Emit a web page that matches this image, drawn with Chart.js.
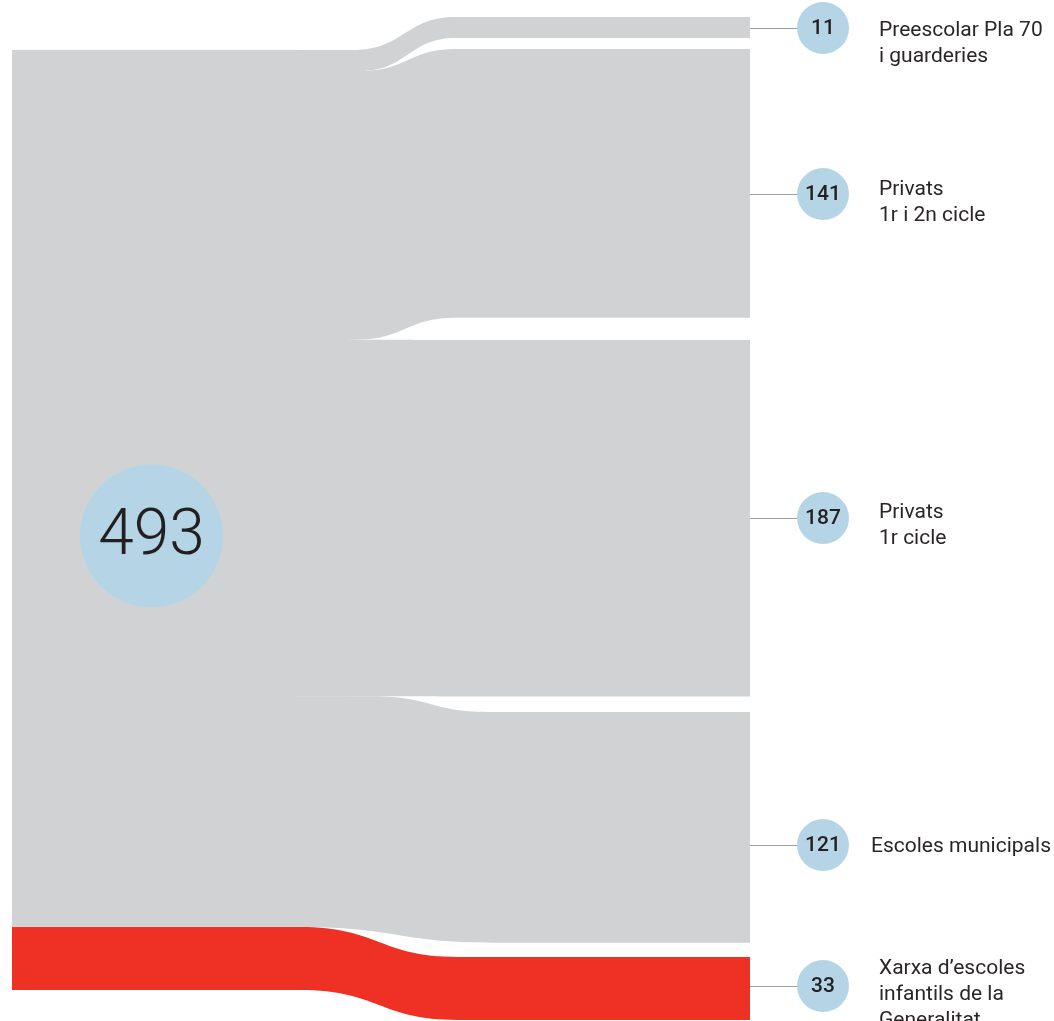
<!DOCTYPE html>
<html>
<head>
<meta charset="utf-8">
<script src="https://cdn.jsdelivr.net/npm/chart.js@4.4.1/dist/chart.umd.min.js"></script>
<style>
  html, body { margin: 0; padding: 0; background: #ffffff; }
  #wrap { width: 1054px; height: 1021px; position: relative; }
</style>
</head>
<body>
<div id="wrap"><canvas id="sankey"></canvas></div>
<script>
// Données
const total = 493;
const values = [11, 141, 187, 121, 33];
const labels = [
    ["Preescolar Pla 70", "i guarderies"],
    ["Privats", "1r i 2n cicle"],
    ["Privats", "1r cicle"],
    ["Escoles municipals"],
    ["Xarxa d\u2019escoles", "infantils de la", "Generalitat"]
];

// Mise en page (unités de l'axe y = unités de valeur)
const PX_PER_UNIT = 940 / 493;
const LEFT_START = 26.2;
const RIGHT_START = 8.9;
const RIGHT_GAPS = [5.8, 11.6, 8.1, 7.5];
const NODE_X = [12, 750];
const CURVE_TOP = [[353, 456], [360, 456], [355, 456], [373, 488], [300, 458]];
const CURVE_BOTTOM = [[360, 456], [355, 456], [373, 488], [300, 493], [300, 458]];
const CIRCLE_X = 823;
const CIRCLE_OFFSET_PX = [0.5, 10.6, -0.2, 17.7, -2.4];
const BIG_CIRCLE = { x: 151.5, offsetPx: 16 };
const LABEL_X = [879, 879, 879, 871, 879];
const LABEL_OFFSET_PX = [8, 1, 0, 7, -12];
const LINE_HEIGHT = 26;

const GRAY = "#d1d2d4";
const RED = "#ee3124";
const BLUE = "#b5d5e6";
const INK = "#231f20";
const bandColors = [GRAY, GRAY, GRAY, GRAY, RED];

// Positions des bandes à gauche et à droite
const bands = [];
let leftY = LEFT_START;
let rightY = RIGHT_START;
values.forEach((v, i) => {
    bands.push({ l0: leftY, l1: leftY + v, r0: rightY, r1: rightY + v });
    leftY += v;
    rightY += v + (RIGHT_GAPS[i] || 0);
});

const bubbles = bands.map((b, i) => ({
    x: CIRCLE_X,
    y: (b.r0 + b.r1) / 2 + CIRCLE_OFFSET_PX[i] / PX_PER_UNIT,
    r: 26
}));
const bigBubble = [{
    x: BIG_CIRCLE.x,
    y: LEFT_START + total / 2 + BIG_CIRCLE.offsetPx / PX_PER_UNIT,
    r: 71.5
}];

// Dessine les flux
const flowPlugin = {
    id: "flows",
    beforeDatasetsDraw(chart) {
        const ctx = chart.ctx;
        const xs = chart.scales.x;
        const ys = chart.scales.y;
        const X = v => xs.getPixelForValue(v);
        const Y = v => ys.getPixelForValue(v);
        const xl = X(NODE_X[0]), xr = X(NODE_X[1]);
        ctx.save();

        bands.forEach((b, i) => {
            const [t0, t1] = CURVE_TOP[i].map(X);
            const [u0, u1] = CURVE_BOTTOM[i].map(X);
            const tm = (t0 + t1) / 2, um = (u0 + u1) / 2;
            ctx.beginPath();
            ctx.moveTo(xl, Y(b.l0));
            ctx.lineTo(t0, Y(b.l0));
            ctx.bezierCurveTo(tm, Y(b.l0), tm, Y(b.r0), t1, Y(b.r0));
            ctx.lineTo(xr, Y(b.r0));
            ctx.lineTo(xr, Y(b.r1));
            ctx.lineTo(u1, Y(b.r1));
            ctx.bezierCurveTo(um, Y(b.r1), um, Y(b.l1), u0, Y(b.l1));
            ctx.lineTo(xl, Y(b.l1));
            ctx.closePath();
            ctx.fillStyle = bandColors[i];
            ctx.fill();
        });

        // bloc de gauche pour masquer les coutures
        ctx.fillStyle = GRAY;
        ctx.fillRect(xl, Y(bands[0].l0), X(350) - xl, Y(bands[2].l1) - Y(bands[0].l0));
        ctx.fillRect(xl, Y(bands[0].l0), X(298) - xl, Y(bands[3].l1) - Y(bands[0].l0));

        // traits de liaison
        const meta = chart.getDatasetMeta(0);
        ctx.strokeStyle = "#9d9fa2";
        ctx.lineWidth = 1;
        meta.data.forEach(pt => {
            const y = Math.round(pt.y) + 0.5;
            ctx.beginPath();
            ctx.moveTo(xr, y);
            ctx.lineTo(pt.x - 26, y);
            ctx.stroke();
        });
        ctx.restore();
    },
    afterDatasetsDraw(chart) {
        const ctx = chart.ctx;
        ctx.save();
        ctx.fillStyle = INK;
        ctx.textBaseline = "middle";
        ctx.textAlign = "center";

        const meta = chart.getDatasetMeta(0);
        meta.data.forEach((pt, i) => {
            ctx.font = "500 21px Roboto";
            ctx.fillText(String(values[i]), pt.x, pt.y + 1);
        });

        const big = chart.getDatasetMeta(1).data[0];
        ctx.font = "300 64px Roboto";
        ctx.fillText(String(total), big.x, big.y + 2);

        ctx.textAlign = "left";
        ctx.textBaseline = "alphabetic";
        ctx.font = "400 21px Roboto";
        ctx.fillStyle = "#2a2627";
        meta.data.forEach((pt, i) => {
            labels[i].forEach((line, j) => {
                ctx.fillText(line, LABEL_X[i], pt.y + LABEL_OFFSET_PX[i] + j * LINE_HEIGHT);
            });
        });
        ctx.restore();
    }
};

new Chart(document.getElementById("sankey"), {
    type: "bubble",
    data: {
        datasets: [
            { data: bubbles, backgroundColor: BLUE, borderWidth: 0 },
            { data: bigBubble, backgroundColor: BLUE, borderWidth: 0 }
        ]
    },
    options: {
        responsive: true,
        maintainAspectRatio: false,
        animation: false,
        layout: { padding: 0, autoPadding: false },
        plugins: { legend: { display: false }, tooltip: { enabled: false } },
        scales: {
            x: { type: "linear", min: 0, max: 1054, display: false },
            y: { type: "linear", min: 0, max: 1021 / PX_PER_UNIT, reverse: true, display: false }
        }
    },
    plugins: [flowPlugin]
});
</script>
</body>
</html>
